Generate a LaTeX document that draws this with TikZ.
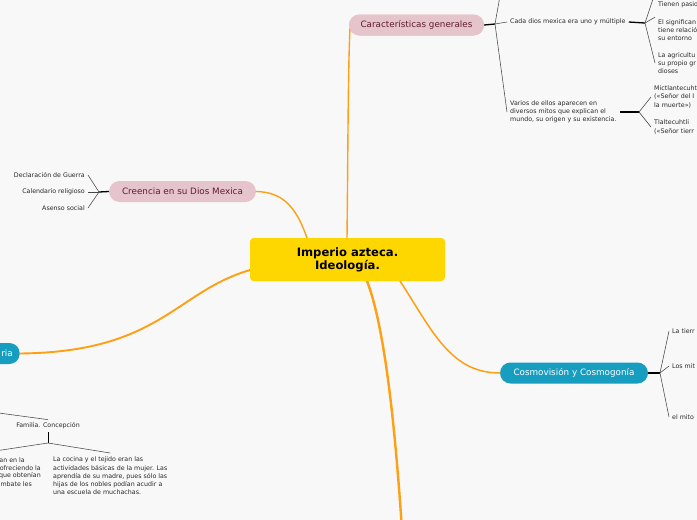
\documentclass[tikz,border=0pt]{standalone}
\usepackage{fontspec}
\setmainfont{DejaVu Sans}
\definecolor{bgc}{RGB}{248,248,248}
\definecolor{yel}{RGB}{255,215,0}
\definecolor{pinkc}{RGB}{229,197,203}
\definecolor{maroon}{RGB}{95,28,48}
\definecolor{bluec}{RGB}{22,157,192}
\definecolor{orc}{RGB}{255,160,20}
\definecolor{linec}{RGB}{70,70,70}
\definecolor{txtc}{RGB}{40,40,40}
\tikzset{
  central/.style={fill=yel, rounded corners=4pt, minimum width=195pt, minimum height=43pt, align=center, font=\fontsize{11.6}{13}\selectfont\bfseries, text=black, inner sep=0pt},
  pinkbox/.style={fill=pinkc, rounded corners=10.5pt, minimum height=21pt, text=maroon, font=\fontsize{8.8}{10}\selectfont, inner sep=0pt},
  bluebox/.style={fill=bluec, rounded corners=10.5pt, minimum height=21pt, text=white, font=\fontsize{8.8}{10}\selectfont, inner sep=0pt},
  small/.style={font=\fontsize{6.3}{8.2}\selectfont, text=txtc, inner xsep=3pt, inner ysep=2pt, align=left},
  smallr/.style={small, align=right},
  conn/.style={draw=orc, line cap=round},
  thinl/.style={draw=linec, line width=0.55pt},
  stubl/.style={draw=black, line width=1.3pt},
}
\begin{document}
\begin{tikzpicture}[x=1pt,y=-1pt]
\useasboundingbox (0,0) rectangle (697,520);
\clip (0,0) rectangle (697,520);
\fill[bgc] (0,0) rectangle (697,520);

\coordinate (botend) at (402,530);
\node[central] (c) at (347.5,259.5) {Imperio azteca.\\Ideología.};
\node[pinkbox, minimum width=135pt] (cg) at (416.5,25) {Características generales};
\node[pinkbox, minimum width=147pt] (cr) at (182.5,191.5) {Creencia en su Dios Mexica};
\node[bluebox, minimum width=148pt] (cm) at (574,373) {Cosmovisión y Cosmogonía};
\node[bluebox, anchor=east, text width=40pt, align=right, inner xsep=7pt] (hist) at (20,353.5) {ria};

% orange connectors
\draw[conn, line width=1.4pt] (347,238) .. controls (348,150) and (348,70) .. (350,28);
\draw[conn, line width=1.4pt] (307,238) .. controls (296,206) and (282,192) .. (cr.east);
\draw[conn, line width=1.9pt] (250,270) .. controls (175,292) and (160,352) .. (hist.east);
\draw[conn, line width=1.5pt] (400,281) .. controls (432,330) and (450,373) .. (cm.west);
\draw[conn, line width=2.4pt] (367,281) .. controls (386,330) and (396,440) .. (botend);

% redraw nodes on top of connectors
\node[central] at (c) {Imperio azteca.\\Ideología.};
\node[pinkbox, minimum width=135pt] at (cg) {Características generales};

% Caracteristicas generales branch
\coordinate (j1) at (495,24);
\coordinate (top1) at (500,-4);
\node[small, anchor=west] (cada) at (507,22) {Cada dios mexica era uno y múltiple};
\node[small, anchor=west] (varios) at (507,112) {Varios de ellos aparecen en\\diversos mitos que explican el\\mundo, su origen y su existencia.};
\draw[stubl] (cg.east) -- (j1);
\draw[thinl] (j1) -- (top1);
\draw[thinl] (j1) -- (cada.west);
\draw[thinl] (j1) -- (varios.west);

\coordinate (j2) at (645,23);
\coordinate (top2) at (654,-4);
\node[small, anchor=west] (tienen) at (655,5) {Tienen pasio};
\node[small, anchor=west] (elsig) at (655,30) {El significan\\tiene relació\\su entorno};
\node[small, anchor=west] (agri) at (655,63) {La agricultu\\su propio gr\\dioses};
\draw[stubl] (cada.east) -- (j2);
\draw[thinl] (j2) -- (top2);
\draw[thinl] (j2) -- (elsig.north west);
\draw[thinl] (j2) -- (agri.west);

\coordinate (j3) at (639,112);
\node[small, anchor=west] (mict) at (651,97) {Mictlantecuht\\(«Señor del I\\la muerte»)};
\node[small, anchor=west] (tlal) at (651,127) {Tlaltecuhtli\\(«Señor tierr};
\draw[stubl] (varios.east) -- (j3);
\draw[thinl] (j3) -- (mict.west);
\draw[thinl] (j3) -- (tlal.west);

% Creencia branch
\coordinate (j4) at (99,192);
\node[smallr, anchor=east] (decl) at (88,175) {Declaración de Guerra};
\node[smallr, anchor=east] (cal) at (88,192) {Calendario religioso};
\node[smallr, anchor=east] (aso) at (88,208) {Asenso social};
\draw[stubl] (cr.west) -- (j4);
\draw[thinl] (j4) -- (decl.east);
\draw[thinl] (j4) -- (cal.east);
\draw[thinl] (j4) -- (aso.east);

% Cosmovision branch
\coordinate (j5) at (660,373);
\node[small, anchor=west] (tierr) at (669,331) {La tierr};
\node[small, anchor=west] (mit) at (669,366) {Los mit};
\node[small, anchor=west] (mito) at (669,417) {el mito};
\draw[stubl] (cm.east) -- (j5);
\draw[thinl] (j5) -- (tierr.west);
\draw[thinl] (j5) -- (mit.west);
\draw[thinl] (j5) -- (mito.west);

% Familia branch
\coordinate (fin) at (-5,412.5);
\coordinate (j6) at (48,443);
\coordinate (lout) at (-5,451);
\node[small, anchor=center, inner ysep=3pt] (fam) at (48,426) {Familia. Concepción};
\node[small, anchor=north west, inner ysep=4pt] (coc) at (50,453) {La cocina y el tejido eran las\\actividades básicas de la mujer. Las\\aprendía de su madre, pues sólo las\\hijas de los nobles podían acudir a\\una escuela de muchachas.};
\draw[thinl] (fin) -- (fam.north);
\draw[stubl, line width=0.9pt] (fam.south) -- (j6);
\draw[thinl] (j6) -- (lout);
\draw[thinl] (j6) -- (coc.north);
\node[smallr, anchor=east] (f1) at (28,460) {an en la};
\node[smallr, anchor=east] (f2) at (44,468) {ofreciendo la};
\node[smallr, anchor=east] (f3) at (44,476) {que obtenían};
\node[smallr, anchor=east] (f4) at (35,484) {mbate les};
\end{tikzpicture}
\end{document}
